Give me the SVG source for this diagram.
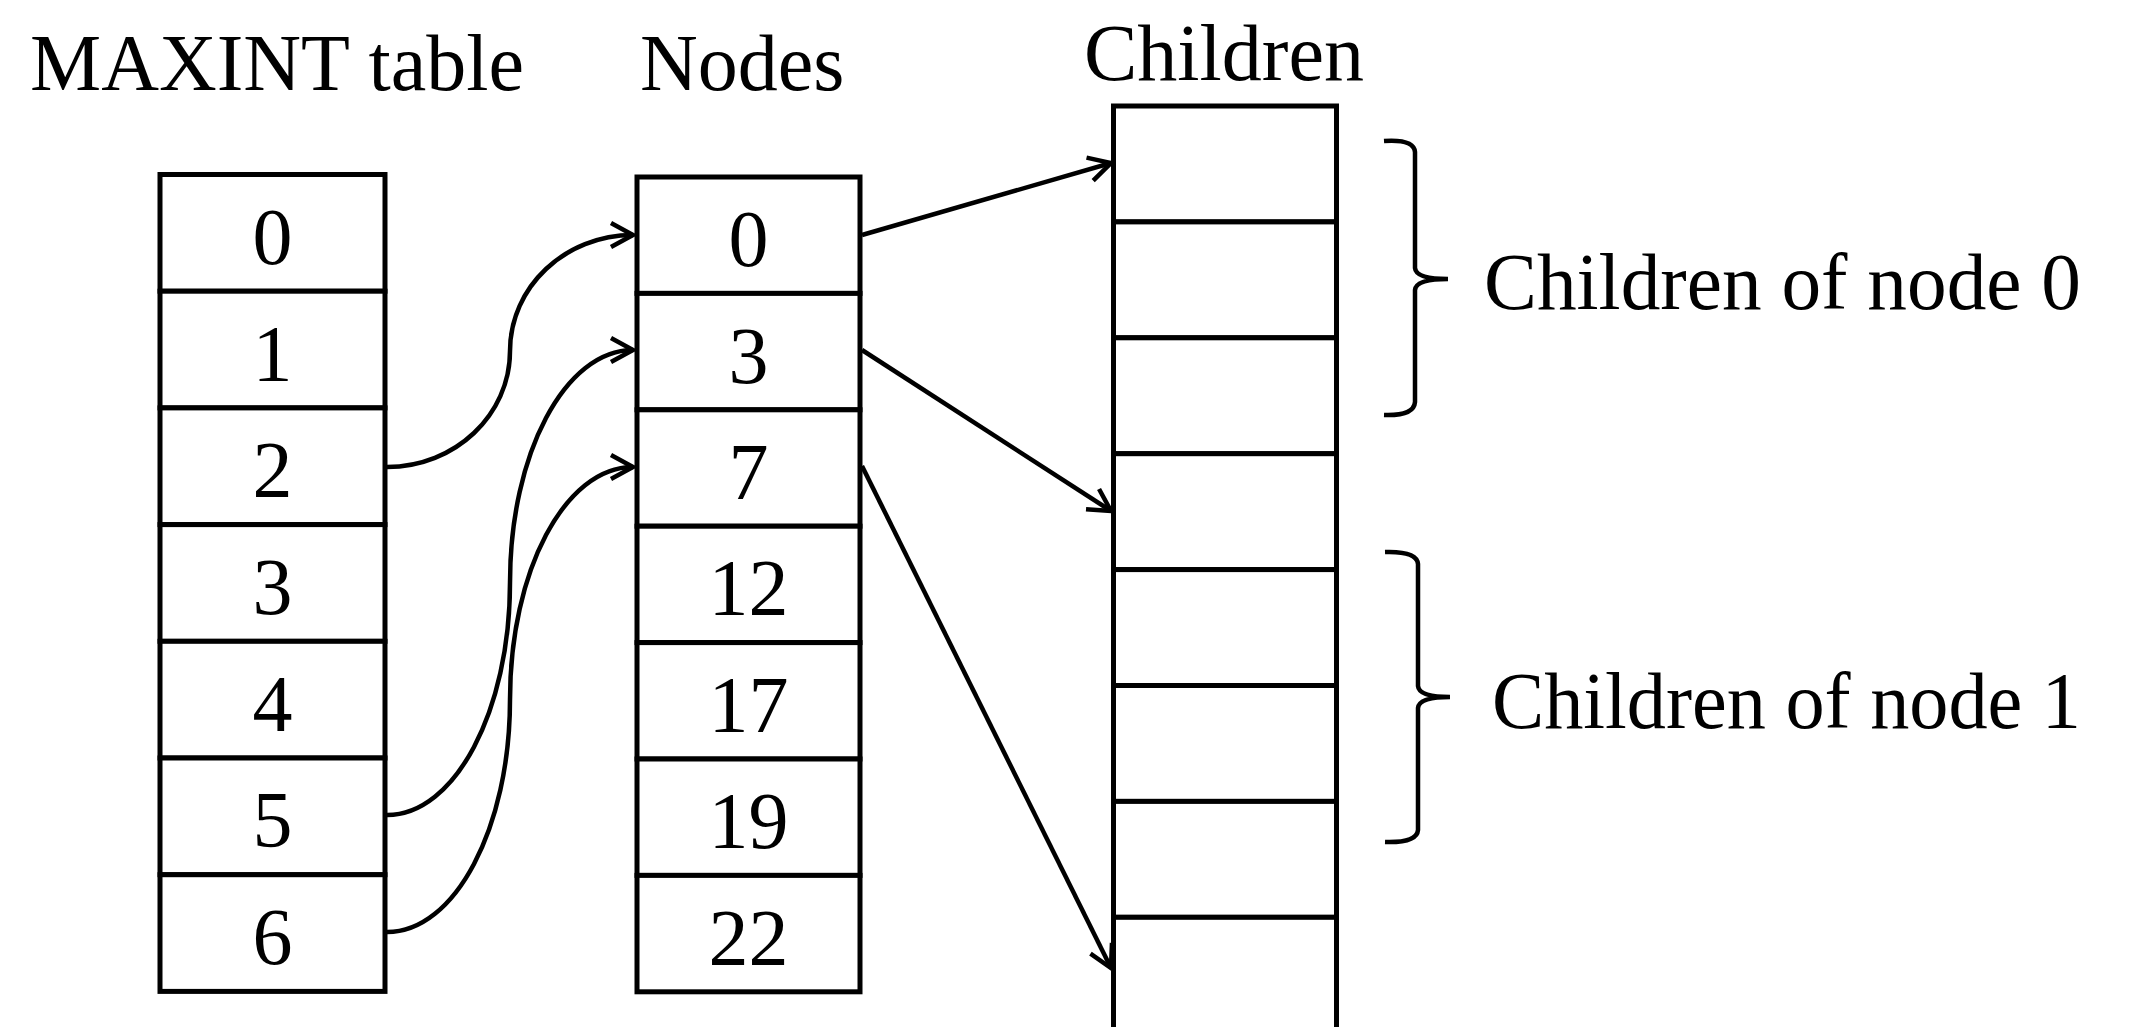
<svg xmlns="http://www.w3.org/2000/svg" width="2133" height="1027" viewBox="0 0 2133 1027">
<style>
.cell{fill:#fff;stroke:#000;stroke-width:5}
.t{font-family:"Liberation Serif","Times New Roman",serif;font-size:80px;fill:#000}
.n{text-anchor:middle}
.c{fill:none;stroke:#000;stroke-width:4.5}
.br{fill:none;stroke:#000;stroke-width:4.5}
</style>
<defs>
<marker id="ah" markerUnits="userSpaceOnUse" viewBox="0 0 26 28" refX="24" refY="14" markerWidth="26" markerHeight="28" orient="auto" overflow="visible">
<path d="M2,2 L24,14 L2,26" fill="none" stroke="#000" stroke-width="4.5"/>
</marker>
</defs>
<rect width="2133" height="1027" fill="#fff"/>

<g id="headers">
<text class="t" x="30" y="90">MAXINT table</text>
<text class="t" x="640" y="90">Nodes</text>
<text class="t" x="1084" y="80">Children</text>
</g>

<g id="maxint">
<g id="m0"><rect class="cell" x="160" y="174.5" width="225" height="116.7"/><text class="t n" x="272.5" y="263.8">0</text></g>
<g id="m1"><rect class="cell" x="160" y="291.2" width="225" height="116.7"/><text class="t n" x="272.5" y="380.5">1</text></g>
<g id="m2"><rect class="cell" x="160" y="407.9" width="225" height="116.7"/><text class="t n" x="272.5" y="497.2">2</text></g>
<g id="m3"><rect class="cell" x="160" y="524.6" width="225" height="116.7"/><text class="t n" x="272.5" y="613.9">3</text></g>
<g id="m4"><rect class="cell" x="160" y="641.3" width="225" height="116.7"/><text class="t n" x="272.5" y="730.6">4</text></g>
<g id="m5"><rect class="cell" x="160" y="758" width="225" height="116.7"/><text class="t n" x="272.5" y="847.3">5</text></g>
<g id="m6"><rect class="cell" x="160" y="874.7" width="225" height="116.7"/><text class="t n" x="272.5" y="964">6</text></g>
</g>

<g id="nodes">
<g id="n0"><rect class="cell" x="637" y="177" width="223" height="116.4"/><text class="t n" x="748.5" y="266.2">0</text></g>
<g id="n1"><rect class="cell" x="637" y="293.4" width="223" height="116.4"/><text class="t n" x="748.5" y="382.6">3</text></g>
<g id="n2"><rect class="cell" x="637" y="409.8" width="223" height="116.4"/><text class="t n" x="748.5" y="499">7</text></g>
<g id="n3"><rect class="cell" x="637" y="526.2" width="223" height="116.4"/><text class="t n" x="748.5" y="615.4">12</text></g>
<g id="n4"><rect class="cell" x="637" y="642.6" width="223" height="116.4"/><text class="t n" x="748.5" y="731.8">17</text></g>
<g id="n5"><rect class="cell" x="637" y="759" width="223" height="116.4"/><text class="t n" x="748.5" y="848.2">19</text></g>
<g id="n6"><rect class="cell" x="637" y="875.4" width="223" height="116.4"/><text class="t n" x="748.5" y="964.6">22</text></g>
</g>

<g id="children">
<rect class="cell" x="1113.5" y="106" width="223" height="115.9"/>
<rect class="cell" x="1113.5" y="221.9" width="223" height="115.9"/>
<rect class="cell" x="1113.5" y="337.8" width="223" height="115.9"/>
<rect class="cell" x="1113.5" y="453.7" width="223" height="115.9"/>
<rect class="cell" x="1113.5" y="569.6" width="223" height="115.9"/>
<rect class="cell" x="1113.5" y="685.5" width="223" height="115.9"/>
<rect class="cell" x="1113.5" y="801.4" width="223" height="115.9"/>
<rect class="cell" x="1113.5" y="917.3" width="223" height="115.9"/>
</g>

<g id="brace0">
<path class="br" d="M1384,141 Q1414,139 1415,152 L1415,268 Q1416,279 1448,279 Q1416,279 1415,290 L1415,402 Q1414,416 1384,415"/>
<text class="t" x="1484" y="309" textLength="597" lengthAdjust="spacingAndGlyphs">Children of node 0</text>
</g>
<g id="brace1">
<path class="br" d="M1385,552 Q1417,551 1418,564 L1418,686 Q1419,697 1450,697 Q1419,697 1418,708 L1418,830 Q1417,843 1385,842"/>
<text class="t" x="1492" y="728" textLength="589" lengthAdjust="spacingAndGlyphs">Children of node 1</text>
</g>

<g id="connectors">
<path class="c" marker-end="url(#ah)" d="M387,467 C455,467 510,415 510,351 C510,287 565,235 633,235"/>
<path class="c" marker-end="url(#ah)" d="M387,815 C455,815 510,711 510,582.5 C510,454 565,350 633,350"/>
<path class="c" marker-end="url(#ah)" d="M387,932 C455,932 510,828 510,699.5 C510,571 565,467 633,467"/>
<path class="c" marker-end="url(#ah)" d="M862,235 L1111,163"/>
<path class="c" marker-end="url(#ah)" d="M862,350 L1111,511"/>
<path class="c" marker-end="url(#ah)" d="M862,466 L1111,968"/>
</g>
</svg>
